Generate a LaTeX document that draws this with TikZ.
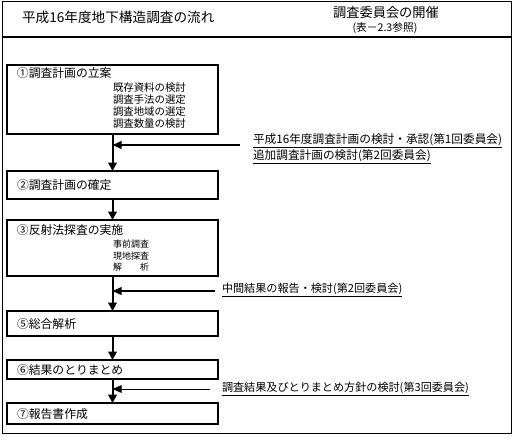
\documentclass[tikz,border=0pt]{standalone}
\usepackage{fontspec}
\setmainfont{Noto Sans CJK JP}
\usetikzlibrary{positioning, arrows.meta, calc}
\definecolor{edgecol}{HTML}{000000}
\tikzset{
    every node/.style={inner sep=0pt, outer sep=0pt},
    frame/.style={draw=edgecol, line width=0.6pt},
    headrule/.style={draw=edgecol, line width=1.3pt},
    headtxt/.style={font=\fontsize{9.7}{11}\selectfont},
    meethd/.style={font=\fontsize{9.4}{11}\selectfont},
    reftxt/.style={font=\fontsize{7.6}{9}\selectfont},
    stepbox/.style={
        rectangle, draw=edgecol, line width=1.4pt,
        minimum width=5.275cm, text width=4.775cm, inner xsep=0.25cm,
        align=left, font=\fontsize{8.4}{10}\selectfont,
    },
    steplbl/.style={anchor=west, font=\fontsize{8.4}{10}\selectfont},
    subitems/.style={anchor=north west, align=left,
        font=\fontsize{7.4}{8.5}\selectfont},
    meettxt/.style={anchor=west, font=\fontsize{7.9}{9}\selectfont},
    arr/.style={-{Triangle[length=6pt, width=6pt]}, edgecol, line width=1.4pt},
    sidearr/.style={-{Triangle[length=6.5pt, width=5.5pt]}, edgecol, line width=1.2pt},
    thinarr/.style={sidearr, line width=0.6pt},
}
\begin{document}
\begin{tikzpicture}[x=0.025cm, y=-0.025cm]
\useasboundingbox (0,0) rectangle (518,441);

% ── Frame and header ───────────────────────────────────────────────
\draw[frame] (2,1) rectangle (511,433);
\draw[headrule] (2,37) -- (511,37);
\node[headtxt, anchor=west] (title) at (22,17) {平成16年度地下構造調査の流れ};
\node[meethd] (meethead) at (386,13) {調査委員会の開催};
\node[reftxt] (meetref) at (385,28) {(表－2.3参照)};

% ── Steps ──────────────────────────────────────────────────────────
\node[stepbox, anchor=north west, minimum height=1.725cm] (plan) at (7,65) {};
\node[steplbl] (planlbl) at ($(plan.north west)+(10,8)$) {①調査計画の立案};
\node[subitems] (plansub) at ($(plan.north west)+(106,18)$)
    {既存資料の検討\\調査手法の選定\\調査地域の選定\\調査数量の検討};

\node[stepbox, below=0.925cm of plan, minimum height=0.7cm] (fix) {②調査計画の確定};

\node[stepbox, below=0.525cm of fix, minimum height=1.4cm] (survey) {};
\node[steplbl] (surveylbl) at ($(survey.north west)+(10,10)$) {③反射法探査の実施};
\node[subitems, font=\fontsize{6.4}{8.2}\selectfont] (surveysub)
    at ($(survey.north west)+(106,20)$) {事前調査\\現地探査\\解　　析};

\node[stepbox, below=0.875cm of survey, minimum height=0.625cm] (analysis) {⑤総合解析};
\node[stepbox, below=0.6cm of analysis, minimum height=0.475cm] (summary) {⑥結果のとりまとめ};
\node[stepbox, below=0.6cm of summary, minimum height=0.525cm] (report) {⑦報告書作成};

% ── Straight edges ─────────────────────────────────────────────────
\draw[arr] (plan) -- (fix);
\draw[arr] (fix) -- (survey);
\draw[arr] (survey) -- (analysis);
\draw[arr] (analysis) -- (summary);
\draw[arr] (summary) -- (report);

% ── Committee meetings ─────────────────────────────────────────────
\node[meettxt, font=\fontsize{8.3}{9}\selectfont] (meet1a) at (253,141)
    {\underline{平成16年度調査計画の検討・承認(第1回委員会)}};
\node[meettxt, font=\fontsize{8.3}{9}\selectfont] (meet1b) at (253,157)
    {\underline{追加調査計画の検討(第2回委員会)}};
\node[meettxt] (meet2) at (222,290) {\underline{中間結果の報告・検討(第2回委員会)}};
\node[meettxt] (meet3) at (222,389) {\underline{調査結果及びとりまとめ方針の検討(第3回委員会)}};

\coordinate (meet1in) at (240,145);
\coordinate (meet2in) at (215,291);
\coordinate (meet3in) at (210,389);
\draw[sidearr] (meet1in) -- (meet1in -| plan.south);
\draw[sidearr] (meet2in) -- (meet2in -| survey.south);
\draw[thinarr] (meet3in) -- (meet3in -| summary.south);

\end{tikzpicture}
\end{document}
